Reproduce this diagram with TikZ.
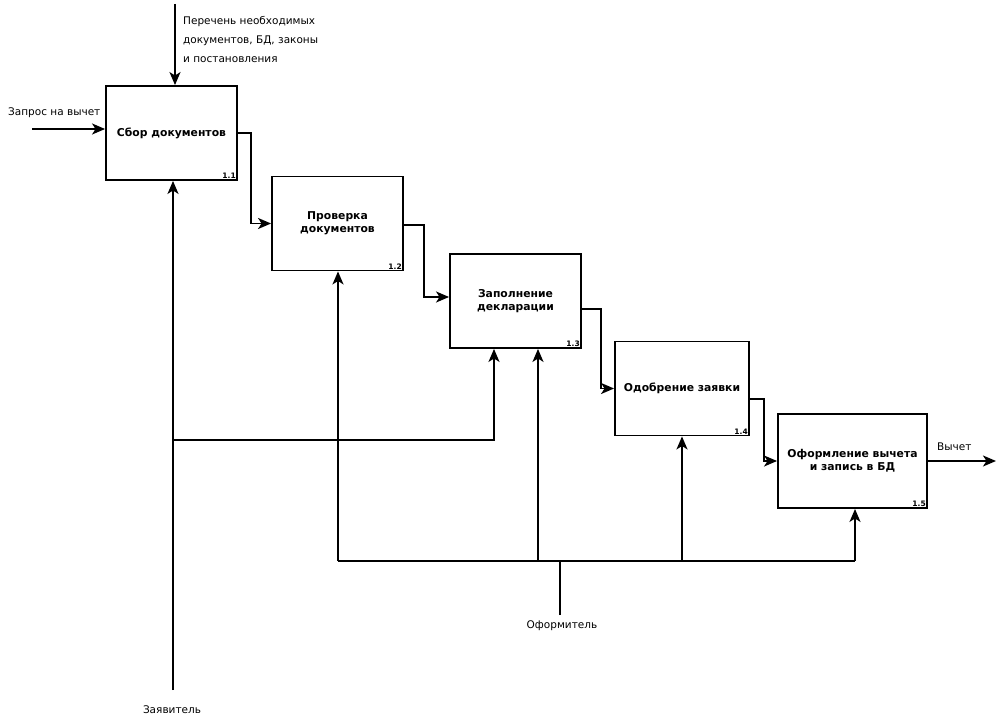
\documentclass[tikz,border=0pt]{standalone}
\usepackage{fontspec}
\setmainfont{DejaVu Sans}
\usetikzlibrary{arrows.meta}
\begin{document}
\begin{tikzpicture}[x=1pt,y=-1pt,
  box/.style={draw,line width=1.9pt,inner sep=0pt,minimum width=#1,minimum height=94pt,align=center,font=\fontsize{10.8}{13}\selectfont\bfseries},
  box/.default=131pt,
  num/.style={anchor=south east,inner sep=2pt,font=\fontsize{7.5}{8}\selectfont\bfseries},
  conn/.style={line width=1.9pt},
  arr/.style={conn,-{Stealth[length=13pt,width=11pt,inset=3.5pt]}},
  lbl/.style={font=\fontsize{10.5}{12}\selectfont,inner sep=0pt}]
\useasboundingbox (0,0) rectangle (1004,722);
% boxes
\node[box] (b1) at (171.5,133) {Сбор документов};
\node[box] (b2) at (337.5,223.5) {Проверка\\документов};
\node[box] (b3) at (515.5,301) {Заполнение\\декларации};
\node[box=134pt] (b4) at (682,388.5) {Одобрение заявки};
\node[box=149pt] (b5) at (852.5,461) {Оформление вычета\\и запись в БД};
\node[num] (n1) at (b1.south east) {1.1};
\node[num] (n2) at (b2.south east) {1.2};
\node[num] (n3) at (b3.south east) {1.3};
\node[num] (n4) at (b4.south east) {1.4};
\node[num] (n5) at (b5.south east) {1.5};
% control
\coordinate (ctop) at (175,4);
\draw[arr] (ctop) -- (ctop |- b1.north);
\node[lbl,anchor=north west,align=left,font=\fontsize{10.5}{19}\selectfont] (tctl) at (183,16) {Перечень необходимых\\документов, БД, законы\\и постановления};
% input
\coordinate (cin) at (32,129);
\draw[arr] (cin) -- (b1.west |- cin);
\node[lbl,anchor=west] (tin) at (8,113) {Запрос на вычет};
% flow between boxes
\coordinate (e1) at (b1.east);
\draw[arr] (e1) -- ++(13,0) |- (b2.west);
\coordinate (e2) at ([yshift=-1.5pt]b2.east);
\draw[arr] (e2) -- ++(20,0) |- ([yshift=4pt]b3.west);
\coordinate (e3) at ([yshift=-8pt]b3.east);
\draw[arr] (e3) -- ++(19,0) |- (b4.west);
\coordinate (e4) at ([yshift=-10.5pt]b4.east);
\draw[arr] (e4) -- ++(14,0) |- (b5.west);
% output
\coordinate (cout) at (996,461);
\draw[arr] (b5.east) -- (cout);
\node[lbl,anchor=west] (tout) at (937,447) {Вычет};
% mechanism: Заявитель
\coordinate (zb) at (173,690);
\coordinate (zj) at (173,440);
\draw[arr] (zb) -- (zb |- b1.south);
\draw[arr] (zj) -| ([xshift=-21.5pt]b3.south);
\node[lbl,anchor=north] (tz) at (172,706) {Заявитель};
% mechanism: Оформитель
\coordinate (ob) at (560,615);
\coordinate (oh) at (560,561);
\coordinate (oL) at (338,561);
\coordinate (oR) at (855,561);
\draw[conn] (ob) -- (oh);
\draw[conn] (oL) -- (oR);
\draw[arr] (oL) -- (oL |- b2.south);
\draw[arr] ([xshift=22.5pt]b3.south |- oh) -- ([xshift=22.5pt]b3.south);
\draw[arr] (b4.south |- oh) -- (b4.south);
\draw[arr] (oR) -- (oR |- b5.south);
\node[lbl,anchor=north] (to) at (562,621) {Оформитель};
\end{tikzpicture}
\end{document}
